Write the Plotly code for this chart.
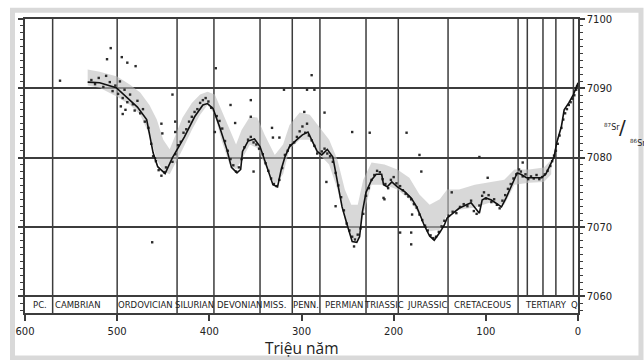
import plotly.graph_objects as go

# ---- data (age in Ma, 87Sr/86Sr expressed as 0.7xxx -> 7xxx) ----
curve_age = [532, 519, 501, 490, 478, 468, 464, 461, 456, 448, 440, 427, 416, 407, 402, 396,
             389, 381, 376, 370, 366, 364, 358, 351, 345, 338, 331, 326, 322, 318, 313, 305,
             299, 293, 289, 283, 278, 272, 266, 261, 256, 250, 245, 240, 237, 234, 230, 224,
             219, 213, 211, 207, 202, 196, 188, 181, 175, 170, 167, 161, 156, 150, 145, 142,
             136, 129, 121, 116, 110, 107, 104, 100, 94, 89, 83, 78, 71, 66, 62, 56, 50, 40,
             35, 29, 26, 23, 18, 15, 10, 5, 1, 0]
curve_val = [7090.9, 7090.8, 7090.1, 7088.8, 7087.3, 7085.5, 7082.6, 7080.7, 7078.7, 7077.7,
             7080.0, 7083.0, 7085.9, 7087.6, 7087.8, 7087.1, 7084.5, 7081.2, 7078.6, 7077.8,
             7078.3, 7080.9, 7082.4, 7082.7, 7081.6, 7078.7, 7076.1, 7075.8, 7078.3, 7080.1,
             7081.6, 7082.6, 7083.3, 7083.7, 7082.6, 7080.9, 7080.4, 7081.2, 7080.1, 7076.4,
             7072.9, 7070.1, 7067.9, 7067.8, 7068.6, 7072.1, 7075.0, 7076.8, 7077.6, 7077.6,
             7076.1, 7075.8, 7076.5, 7075.8, 7075.1, 7074.2, 7072.9, 7071.3, 7070.3, 7068.7,
             7068.1, 7069.2, 7070.3, 7071.3, 7072.0, 7072.7, 7073.2, 7073.5, 7072.5, 7072.0,
             7073.9, 7074.2, 7073.9, 7073.5, 7072.9, 7074.2, 7076.4, 7077.8, 7077.6, 7077.1,
             7077.1, 7077.1, 7077.6, 7079.3, 7080.1, 7082.2, 7084.5, 7086.9, 7087.9, 7089.1,
             7090.5, 7090.8]

band_age = [532, 519, 500, 486, 475, 465, 457, 450, 443, 437, 429, 419, 410, 402, 394, 387,
            378, 371, 365, 356, 348, 340, 329, 320, 313, 302, 291, 280, 270, 261, 253, 246,
            239, 233, 224, 210, 196, 183, 172, 161, 150, 142, 129, 112, 96, 80, 69, 53, 37, 29]
band_upper = [7092.7, 7092.4, 7091.7, 7090.5, 7089.4, 7087.6, 7085.5, 7082.6, 7081.2, 7083.3,
              7085.8, 7087.9, 7089.1, 7089.5, 7089.1, 7086.9, 7084.0, 7081.9, 7084.0, 7085.9,
              7085.8, 7083.3, 7080.4, 7081.9, 7084.7, 7086.5, 7086.2, 7084.3, 7082.6, 7079.7,
              7075.4, 7073.2, 7073.2, 7076.8, 7079.3, 7079.0, 7078.3, 7077.1, 7074.7, 7073.2,
              7074.0, 7075.4, 7075.4, 7076.1, 7076.4, 7076.8, 7078.3, 7078.3, 7078.6, 7079.7]
band_lower = [7090.4, 7090.1, 7088.8, 7087.6, 7086.2, 7083.3, 7079.7, 7078.0, 7077.6, 7079.0,
              7081.2, 7084.0, 7086.2, 7087.6, 7086.2, 7082.6, 7079.0, 7078.3, 7079.7, 7081.9,
              7081.4, 7079.0, 7076.1, 7077.6, 7081.2, 7082.6, 7082.6, 7080.4, 7079.0, 7075.4,
              7071.1, 7068.2, 7068.2, 7071.8, 7076.1, 7076.1, 7075.4, 7074.0, 7071.8, 7069.4,
              7069.6, 7071.8, 7072.5, 7072.8, 7073.5, 7073.2, 7076.1, 7076.4, 7076.5, 7077.6]

dot_age = [528, 524, 520, 515, 512, 508, 505, 502, 499, 497, 494, 492, 489, 486, 483, 481, 478,
           475, 472, 470, 466, 463, 461, 458, 455, 452, 449, 447, 496, 494, 491,
           440, 437, 434, 431, 428, 425, 422, 419, 416, 413, 410, 407, 404, 401, 398,
           392, 389, 386, 383, 380, 377, 374, 371, 368, 365, 362, 358, 355, 352, 349, 346,
           342, 339, 336, 333, 330, 327, 324, 321, 318, 315, 312,
           308, 305, 302, 299, 296, 294, 292, 289, 286, 283,
           278, 275, 272, 269, 266, 263, 260, 257, 254, 251, 248, 245, 242, 239, 236, 233,
           230, 227, 224, 221, 218, 215, 212, 209, 206, 203, 200, 197,
           193, 190, 187, 184, 181, 178, 175, 172, 169, 166, 163, 160, 157, 154, 151, 148, 145,
           140, 136, 132, 128, 124, 120, 116, 113, 110, 107, 104, 102, 100, 97, 94, 91, 88, 85,
           82, 79, 76, 73, 70, 67,
           64, 62, 60, 57, 54, 51, 48, 45, 42, 39, 36, 33, 30, 28, 26, 24, 22, 20, 18, 16, 14,
           12, 10, 8, 6, 4, 2, 1,
           562, 507, 511, 495, 489, 480, 452, 451, 440, 437, 393, 355, 377, 289, 319, 294, 286,
           245, 226, 186, 275, 331, 324, 352, 372, 332, 462, 180, 181, 181, 210, 243, 107, 60,
           211, 170, 193, 172, 98, 137, 263, 273, 297, 437, 394, 355]
dot_val = [7091.2, 7090.6, 7091.5, 7090.2, 7091.8, 7090.9, 7089.6, 7090.4, 7089.2, 7091.0,
           7088.6, 7089.8, 7088.0, 7089.1, 7087.7, 7086.8, 7088.2, 7086.4, 7087.0, 7085.2,
           7084.3, 7082.0, 7080.2, 7079.5, 7078.2, 7077.4, 7077.9, 7078.6, 7087.4, 7086.3,
           7086.9,
           7079.4, 7080.5, 7081.8, 7082.3, 7083.6, 7084.1, 7085.2, 7085.9, 7086.6, 7087.0,
           7087.9, 7088.3, 7088.6, 7088.1, 7087.2,
           7086.0, 7085.3, 7084.2, 7082.4, 7081.0, 7079.8, 7078.9, 7078.0, 7078.6, 7079.8,
           7081.5, 7082.6, 7083.0, 7082.2, 7081.9, 7081.3,
           7080.5, 7079.2, 7078.1, 7077.0, 7076.2, 7075.9, 7076.8, 7078.5, 7080.4, 7081.0,
           7081.8,
           7082.2, 7083.0, 7083.8, 7084.5, 7083.6, 7084.9, 7083.2, 7082.5, 7081.7, 7080.6,
           7080.9, 7081.3, 7080.6, 7080.2, 7079.4, 7077.8, 7076.0, 7074.3, 7072.4, 7070.5,
           7069.5, 7068.6, 7068.2, 7068.9, 7069.8, 7071.9,
           7074.5, 7075.6, 7076.8, 7077.5, 7078.1, 7077.9, 7076.9, 7076.2, 7075.6, 7076.8,
           7077.2, 7076.3,
           7075.9, 7075.3, 7074.8, 7074.4, 7074.0, 7073.3, 7072.8, 7071.8, 7071.0, 7070.2,
           7069.5, 7068.8, 7068.4, 7068.6, 7069.3, 7070.1, 7070.9,
           7071.6, 7072.2, 7072.0, 7072.9, 7073.3, 7073.0, 7073.8, 7072.3, 7071.9, 7073.1,
           7074.5, 7075.0, 7074.1, 7074.6, 7073.6, 7074.0, 7073.2, 7072.7, 7073.8, 7074.6,
           7075.5, 7076.2, 7077.0, 7077.6,
           7078.3, 7078.0, 7077.3, 7077.6, 7076.9, 7077.3, 7077.0, 7077.5, 7076.9, 7077.2,
           7077.6, 7078.1, 7078.8, 7079.5, 7080.3, 7081.0, 7082.0, 7083.2, 7084.3, 7085.5,
           7086.4, 7087.0, 7087.6, 7088.0, 7088.5, 7089.0, 7089.8, 7090.3,
           7091.1, 7095.8, 7094.2, 7094.5, 7093.7, 7093.2, 7084.9, 7083.5, 7089.1, 7083.7,
           7092.9, 7088.3, 7087.6, 7091.9, 7089.8, 7089.8, 7089.8, 7083.7, 7083.6, 7083.6,
           7086.5, 7082.9, 7082.9, 7078.0, 7085.0, 7084.3, 7067.8, 7071.8, 7069.2, 7067.5,
           7074.0, 7067.2, 7080.1, 7079.3, 7074.2, 7078.0, 7069.2, 7080.4, 7077.1, 7075.0,
           7073.0, 7076.5, 7086.6, 7085.2, 7083.7, 7085.9]

period_bounds = [570, 500, 435, 395, 345, 310, 280, 230, 195, 141, 65]
epoch_bounds = [55, 38, 24, 5]
period_names = ["PC.", "CAMBRIAN", "ORDOVICIAN", "SILURIAN", "DEVONIAN", "MISS.", "PENN.",
                "PERMIAN", "TRIASSIC", "JURASSIC", "CRETACEOUS", "TERTIARY", "Q"]
period_label_age = [584, 542, 469, 416, 367, 329, 295, 254, 210, 164, 104, 35, 3.3]
x_ticks = [600, 500, 400, 300, 200, 100, 0]
y_ticks = [7060, 7070, 7080, 7090, 7100]

Y_MIN, Y_MAX = 7057.6, 7100
GRID = "#3c3c3c"
TXT = "#222222"
FONT = "DejaVu Sans"

fig = go.Figure()
fig.add_trace(go.Scatter(
    x=band_age + band_age[::-1], y=band_upper + band_lower[::-1],
    fill="toself", fillcolor="rgba(190,190,190,0.6)", line=dict(width=0),
    mode="lines", hoverinfo="skip", showlegend=False))
fig.add_trace(go.Scatter(
    x=dot_age, y=dot_val, mode="markers",
    marker=dict(symbol="square", size=2.4, color="#2a2a2a"), showlegend=False))
fig.add_trace(go.Scatter(
    x=curve_age, y=curve_val, mode="lines",
    line=dict(color="#111111", width=1.6), showlegend=False))

shapes = []
for a in period_bounds:
    shapes.append(dict(type="line", xref="x", yref="y", x0=a, x1=a, y0=Y_MIN, y1=Y_MAX,
                       line=dict(color=GRID, width=1.5), layer="below"))
for a in epoch_bounds:
    shapes.append(dict(type="line", xref="x", yref="y", x0=a, x1=a, y0=7060, y1=Y_MAX,
                       line=dict(color=GRID, width=1.5), layer="below"))
# grey frame around the picture
shapes.append(dict(type="rect", xref="paper", yref="paper", x0=-0.0226, x1=1.1139,
                   y0=-0.153, y1=1.030, line=dict(color="#d9d9d9", width=5), layer="above"))

annotations = []
for name, a in zip(period_names, period_label_age):
    annotations.append(dict(x=a, y=7058.75, xref="x", yref="y", text=name, showarrow=False,
                            font=dict(family=FONT, size=8.5, color=TXT),
                            xanchor="center", yanchor="middle"))
annotations.append(dict(x=0.5, y=-0.118, xref="paper", yref="paper", text="Triệu năm",
                        showarrow=False, font=dict(family="Open Sans", size=15.5, color=TXT),
                        xanchor="center", yanchor="middle"))
annotations.append(dict(x=1.0434, y=0.633, xref="paper", yref="paper",
                        text="<sup>87</sup>Sr", showarrow=False, xanchor="left",
                        yanchor="middle", font=dict(family=FONT, size=8, color=TXT)))
annotations.append(dict(x=1.070, y=0.633, xref="paper", yref="paper", text="/",
                        showarrow=False, xanchor="left", yanchor="middle",
                        font=dict(family=FONT, size=20, color=TXT)))
annotations.append(dict(x=1.090, y=0.578, xref="paper", yref="paper",
                        text="<sup>86</sup>Sr", showarrow=False, xanchor="left",
                        yanchor="middle", font=dict(family=FONT, size=8, color=TXT)))

fig.update_layout(
    width=644, height=360,
    margin=dict(l=25, r=66, t=19, b=47),
    paper_bgcolor="white", plot_bgcolor="white",
    shapes=shapes, annotations=annotations,
    xaxis=dict(range=[600, 0], tickvals=x_ticks, ticks="outside", ticklen=6, tickwidth=1.5,
               tickcolor=GRID, showline=True, linecolor=GRID, linewidth=1.5, mirror=True,
               showgrid=False, zeroline=False, ticklabelstandoff=2,
               tickfont=dict(family=FONT, size=10, color=TXT)),
    yaxis=dict(range=[Y_MIN, Y_MAX], side="right", tickvals=y_ticks, ticks="outside",
               ticklen=5, tickwidth=1.5, tickcolor=GRID, showline=True, linecolor=GRID,
               linewidth=1.5, mirror="ticks", showgrid=True, gridcolor=GRID, gridwidth=1.5,
               zeroline=False, tickfont=dict(family=FONT, size=10, color=TXT),
               minor=dict(dtick=1, tick0=7060, ticks="outside", ticklen=3, tickwidth=1,
                          tickcolor=GRID, showgrid=False)),
)

fig.write_html("out.html")
